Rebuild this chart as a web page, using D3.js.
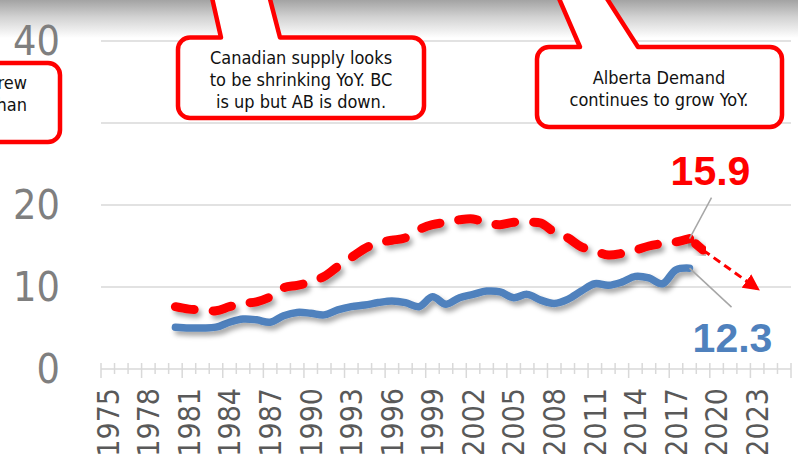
<!DOCTYPE html>
<html>
<head>
<meta charset="utf-8">
<script src="https://cdn.jsdelivr.net/npm/d3@7"></script>
<style>
  html, body { margin: 0; padding: 0; background: #fff; overflow: hidden; }
  svg { display: block; }
</style>
</head>
<body>
<div id="chart"></div>
<script>
// categories on the x axis (one band per year) and the labelled ones
const categories = [1975,1976,1977,1978,1979,1980,1981,1982,1983,1984,1985,1986,1987,1988,1989,
  1990,1991,1992,1993,1994,1995,1996,1997,1998,1999,2000,2001,2002,2003,2004,2005,2006,2007,
  2008,2009,2010,2011,2012,2013,2014,2015,2016,2017,2018,2019,2020,2021,2022,2023,2024,2025];
const tickYears = [1975,1978,1981,1984,1987,1990,1993,1996,1999,2002,2005,2008,2011,2014,2017,2020,2023];
const gridValues = [10, 20, 30, 40];
// the "30" label sits under the left callout box, so it is not shown
const yLabels = [0, 10, 20, 40];

// Canadian supply (red dashed)
const supplyYears = [1980,1981,1982,1983,1984,1985,1986,1987,1988,1989,1990,1991,1992,1993,1994,
  1995,1996,1997,1998,1999,2000,2001,2002,2003,2004,2005,2006,2007,2008,2009,2010,2011,2012,
  2013,2014,2015,2016,2017,2018];
const supply = [7.6,7.3,7.2,7.1,7.6,8.0,8.2,8.8,9.9,10.2,10.6,11.3,12.5,13.6,14.7,
  15.4,15.7,16.0,17.0,17.6,17.9,18.2,18.3,17.8,17.6,17.9,17.9,17.8,16.7,16.0,14.9,14.4,13.9,
  14.1,14.5,15.0,15.3,15.5,15.9];

// Alberta demand (blue solid)
const demandYears = supplyYears;
const demand = [5.1,5.0,5.0,5.1,5.7,6.1,6.0,5.7,6.5,6.9,6.8,6.6,7.2,7.6,7.8,
  8.1,8.3,8.1,7.6,8.8,7.9,8.7,9.1,9.5,9.4,8.7,9.1,8.4,8.0,8.5,9.5,10.4,10.2,
  10.6,11.3,11.1,10.4,12.1,12.3];

// trend arrow after the last supply point
const trendYears = [2018, 2019, 2023];
const trendValues = [15.9, 14.5, 9.8];

const W = 798, H = 454;
const plot = { left: 101, right: 791, top: 41, bottom: 369 };
const fontC = "'DejaVu Sans Condensed', 'DejaVu Sans', sans-serif";

const svg = d3.select("#chart").append("svg")
  .attr("width", W).attr("height", H);

const defs = svg.append("defs");

// grey fade along the top edge
const topGrad = defs.append("linearGradient")
  .attr("id", "top-fade").attr("x1", 0).attr("x2", 0).attr("y1", 0).attr("y2", 1);
topGrad.append("stop").attr("offset", "0%").attr("stop-color", "#a3a3a3");
topGrad.append("stop").attr("offset", "45%").attr("stop-color", "#d2d2d2");
topGrad.append("stop").attr("offset", "100%").attr("stop-color", "#ffffff");

// soft shadow under the lines
const shadow = defs.append("filter").attr("id", "shadow")
  .attr("x", "-10%").attr("y", "-30%").attr("width", "130%").attr("height", "180%");
shadow.append("feDropShadow")
  .attr("dx", 3).attr("dy", 4).attr("stdDeviation", 2.5)
  .attr("flood-color", "#000").attr("flood-opacity", 0.35);

defs.append("marker")
  .attr("id", "arrow")
  .attr("viewBox", [0, 0, 10, 10])
  .attr("refX", 8).attr("refY", 5)
  .attr("markerWidth", 5.5).attr("markerHeight", 5.5)
  .attr("markerUnits", "strokeWidth")
  .attr("orient", "auto")
  .append("path")
  .attr("d", "M0,0L10,5L0,10Z")
  .attr("fill", "#ff0000");

svg.append("rect")
  .attr("x", 0).attr("y", 0).attr("width", W).attr("height", 38)
  .attr("fill", "url(#top-fade)");

// scales
const x = d3.scaleBand()
  .domain(categories)
  .range([plot.left, plot.right])
  .padding(0);

const y = d3.scaleLinear()
  .domain([0, 40])
  .range([plot.bottom, plot.top]);

const cx = yr => x(yr) + x.bandwidth() / 2;

// gridlines
svg.append("g")
  .selectAll("line")
  .data(gridValues)
  .join("line")
  .attr("x1", plot.left).attr("x2", plot.right)
  .attr("y1", d => y(d)).attr("y2", d => y(d))
  .attr("stroke", "#d9d9d9").attr("stroke-width", 1.5);

// y axis labels
const yAxis = svg.append("g")
  .attr("transform", `translate(${plot.left},0)`)
  .call(d3.axisLeft(y).tickValues(yLabels).tickSize(0).tickPadding(41));
yAxis.select(".domain").remove();
yAxis.selectAll("text")
  .attr("fill", "#7f7f7f")
  .style("font-family", fontC)
  .style("font-size", "41px");

// x axis line + tick marks at every category boundary
const xg = svg.append("g");
xg.append("line")
  .attr("x1", plot.left).attr("x2", plot.right)
  .attr("y1", plot.bottom).attr("y2", plot.bottom)
  .attr("stroke", "#d9d9d9").attr("stroke-width", 1.5);
const bounds = categories.map(c => x(c)).concat([plot.right]);
xg.selectAll("line.tick")
  .data(bounds)
  .join("line")
  .attr("class", "tick")
  .attr("x1", d => d).attr("x2", d => d)
  .attr("y1", plot.bottom - 6)
  .attr("y2", (d, i) => i % 3 === 0 ? plot.bottom + 9 : plot.bottom + 5)
  .attr("stroke", "#d9d9d9").attr("stroke-width", 1.5);

// x axis labels (rotated)
const xAxis = svg.append("g")
  .attr("transform", `translate(0,${plot.bottom})`)
  .call(d3.axisBottom(x).tickValues(tickYears).tickSize(0).tickPadding(0));
xAxis.select(".domain").remove();
xAxis.selectAll("text")
  .attr("transform", "rotate(-90)")
  .attr("x", -19).attr("y", 0).attr("dy", "0.36em")
  .attr("text-anchor", "end")
  .attr("fill", "#595959")
  .style("font-family", fontC)
  .style("font-size", "30px");

// lines
const lineGen = d3.line()
  .x(d => cx(d[0]))
  .y(d => y(d[1]))
  .curve(d3.curveCatmullRom.alpha(0.5));

const demandPts = demandYears.map((yr, i) => [yr, demand[i]]);
const supplyPts = supplyYears.map((yr, i) => [yr, supply[i]]);
const trendPts = trendYears.map((yr, i) => [yr, trendValues[i]]);

svg.append("path")
  .datum(demandPts)
  .attr("d", lineGen)
  .attr("fill", "none")
  .attr("stroke", "#4f81bd")
  .attr("stroke-width", 7.5)
  .attr("stroke-linecap", "round")
  .attr("stroke-linejoin", "round")
  .attr("filter", "url(#shadow)");

svg.append("path")
  .datum(supplyPts)
  .attr("d", lineGen)
  .attr("fill", "none")
  .attr("stroke", "#ff0000")
  .attr("stroke-width", 9)
  .attr("stroke-linecap", "round")
  .attr("stroke-dasharray", "19,19")
  .attr("filter", "url(#shadow)");

// thick first piece of the trend, then thin dashed arrow
svg.append("path")
  .datum(trendPts.slice(0, 2))
  .attr("d", d3.line().x(d => cx(d[0])).y(d => y(d[1])))
  .attr("fill", "none")
  .attr("stroke", "#ff0000")
  .attr("stroke-width", 9)
  .attr("stroke-linecap", "round")
  .attr("stroke-dasharray", "0,8,30")
  .attr("filter", "url(#shadow)");

svg.append("path")
  .datum(trendPts.slice(1))
  .attr("d", d3.line().x(d => cx(d[0])).y(d => y(d[1])))
  .attr("fill", "none")
  .attr("stroke", "#ff0000")
  .attr("stroke-width", 3)
  .attr("stroke-dasharray", "8,5")
  .attr("marker-end", "url(#arrow)");

// value labels with leader lines
const lastSupply = supplyPts[supplyPts.length - 1];
const lastDemand = demandPts[demandPts.length - 1];

svg.append("line")
  .attr("x1", cx(lastSupply[0])).attr("y1", y(lastSupply[1]))
  .attr("x2", cx(lastSupply[0]) + 22).attr("y2", y(lastSupply[1]) - 41)
  .attr("stroke", "#a6a6a6").attr("stroke-width", 1.5);
svg.append("text")
  .attr("x", cx(lastSupply[0]) + 21).attr("y", 185)
  .attr("text-anchor", "middle")
  .attr("fill", "#ff0000")
  .style("font-family", "'Liberation Sans', Arial, sans-serif")
  .style("font-weight", "bold")
  .style("font-size", "41px")
  .text(lastSupply[1].toFixed(1));

svg.append("line")
  .attr("x1", cx(lastDemand[0])).attr("y1", y(lastDemand[1]))
  .attr("x2", cx(lastDemand[0]) + 42).attr("y2", y(lastDemand[1]) + 39)
  .attr("stroke", "#a6a6a6").attr("stroke-width", 1.5);
svg.append("text")
  .attr("x", cx(lastDemand[0]) + 43).attr("y", 352)
  .attr("text-anchor", "middle")
  .attr("fill", "#4f81bd")
  .style("font-family", "'Liberation Sans', Arial, sans-serif")
  .style("font-weight", "bold")
  .style("font-size", "41px")
  .text(lastDemand[1].toFixed(1));

// callout boxes (rounded rect with a wedge going up off the page)
function callout(b) {
  const r = 12;
  const p = d3.path();
  p.moveTo(b.x0 + r, b.y0);
  if (b.wedge) {
    const w = b.wedge;
    p.lineTo(w.l0, b.y0);
    p.lineTo(w.l1, -20);
    p.lineTo(w.r1, -20);
    p.lineTo(w.r0, b.y0);
  }
  p.lineTo(b.x1 - r, b.y0);
  p.arcTo(b.x1, b.y0, b.x1, b.y0 + r, r);
  p.lineTo(b.x1, b.y1 - r);
  p.arcTo(b.x1, b.y1, b.x1 - r, b.y1, r);
  p.lineTo(b.x0 + r, b.y1);
  p.arcTo(b.x0, b.y1, b.x0, b.y1 - r, r);
  p.lineTo(b.x0, b.y0 + r);
  p.arcTo(b.x0, b.y0, b.x0 + r, b.y0, r);
  p.closePath();

  const g = svg.append("g");
  g.append("path")
    .attr("d", p.toString())
    .attr("fill", "#fff")
    .attr("stroke", "#ff0000")
    .attr("stroke-width", 4.5)
    .attr("stroke-linejoin", "round");
  g.append("text")
    .attr("text-anchor", b.anchor || "middle")
    .attr("fill", "#111")
    .style("font-family", fontC)
    .style("font-size", "18px")
    .selectAll("tspan")
    .data(b.lines)
    .join("tspan")
    .attr("x", b.tx)
    .attr("y", (d, i) => b.ty + i * 22)
    .text(d => d);
}

callout({
  x0: -40, x1: 60, y0: 63, y1: 142,
  tx: 27, ty: 89, anchor: "end",
  lines: ["grew", "than"]
});

callout({
  x0: 178, x1: 424, y0: 37.5, y1: 118,
  wedge: { l0: 221, l1: 208, r0: 280, r1: 265 },
  tx: 301, ty: 64,
  lines: ["Canadian supply looks", "to be shrinking YoY. BC", "is up but AB is down."]
});

callout({
  x0: 537, x1: 782, y0: 47, y1: 127,
  wedge: { l0: 580, l1: 551, r0: 638, r1: 595 },
  tx: 659, ty: 84,
  lines: ["Alberta Demand", "continues to grow YoY."]
});
</script>
</body>
</html>
